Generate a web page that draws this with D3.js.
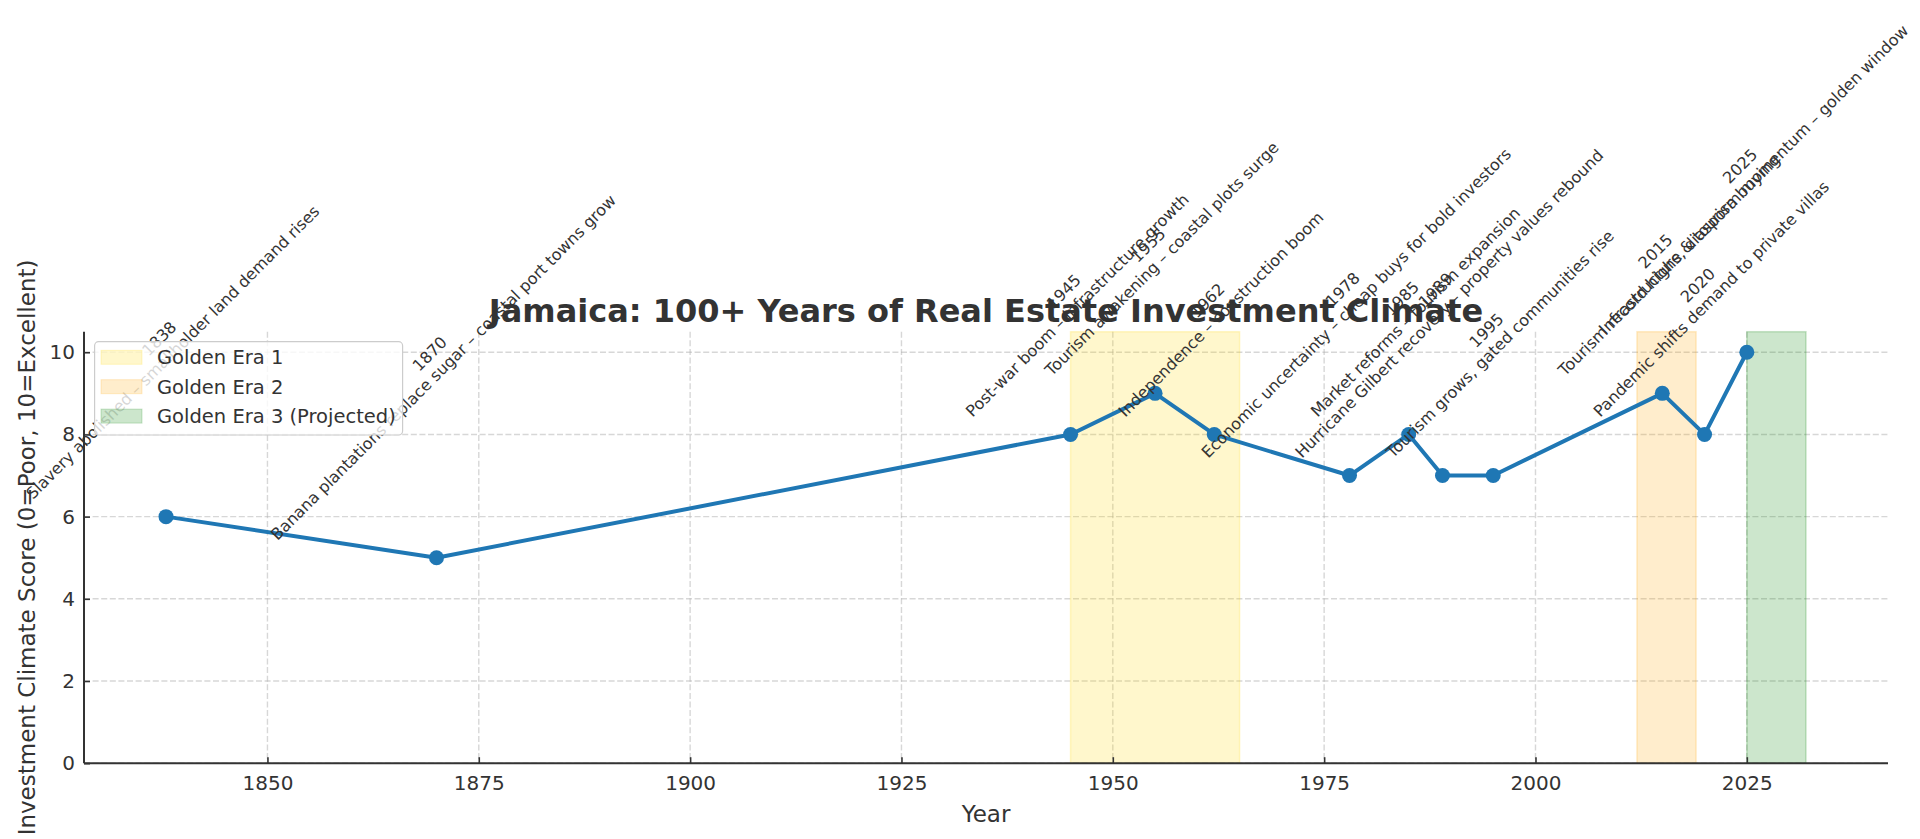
<!DOCTYPE html>
<html lang="en">
  <head>
    <meta charset="utf-8">
    <script src="https://cdn.jsdelivr.net/npm/d3@7"></script>
    <style>
      body { margin: 0; background: #fff; }
      text { font-family: "DejaVu Sans", sans-serif; }
    </style>
  </head>
  <body>
    <script type="text/javascript">

      // Data
      var years = [1838, 1870, 1945, 1955, 1962, 1978, 1985, 1989, 1995, 2015, 2020, 2025];
      var scores = [6, 5, 8, 9, 8, 7, 8, 7, 7, 9, 8, 10];
      var events = [
        "Slavery abolished – smallholder land demand rises",
        "Banana plantations replace sugar – coastal port towns grow",
        "Post-war boom – infrastructure growth",
        "Tourism awakening – coastal plots surge",
        "Independence – construction boom",
        "Economic uncertainty – cheap buys for bold investors",
        "Market reforms – tourism expansion",
        "Hurricane Gilbert recovery – property values rebound",
        "Tourism grows, gated communities rise",
        "Tourism record highs, diaspora buying",
        "Pandemic shifts demand to private villas",
        "Infrastructure & tourism momentum – golden window"
      ];

      var eraNames = ["Golden Era 1", "Golden Era 2", "Golden Era 3 (Projected)"];
      var eraStarts = [1945, 2012, 2025];
      var eraEnds = [1965, 2019, 2032];
      var eraColors = ["gold", "orange", "green"];

      var xTicks = [1850, 1875, 1900, 1925, 1950, 1975, 2000, 2025];
      var yTicks = [0, 2, 4, 6, 8, 10];

      // Layout
      var svgWidth = 1920;
      var svgHeight = 839;
      var plotL = 84, plotR = 1888, plotT = 331.7, plotB = 763.2;
      var ink = "#333";

      var svg = d3.select("body")
        .append("svg")
        .attr("width", svgWidth)
        .attr("height", svgHeight);

      // x limits with 5% padding like matplotlib
      var xMin = d3.min(years), xMax = d3.max(eraEnds);
      var pad = (xMax - xMin) * 0.05;
      var x = d3.scaleLinear().domain([xMin - pad, xMax + pad]).range([plotL, plotR]);
      var y = d3.scaleLinear().domain([0, 10.5]).range([plotB, plotT]);

      // grid
      var grid = svg.append("g")
        .attr("stroke", "#b0b0b0")
        .attr("stroke-opacity", 0.5)
        .attr("stroke-width", 1.4)
        .attr("stroke-dasharray", "6,2.6");
      grid.selectAll("line.gx").data(xTicks).join("line")
        .attr("class", "gx")
        .attr("x1", d => x(d)).attr("x2", d => x(d))
        .attr("y1", plotT).attr("y2", plotB);
      grid.selectAll("line.gy").data(yTicks).join("line")
        .attr("class", "gy")
        .attr("x1", plotL).attr("x2", plotR)
        .attr("y1", d => y(d)).attr("y2", d => y(d));

      // golden era spans
      svg.append("g").selectAll("rect").data(eraNames).join("rect")
        .attr("x", (d, i) => x(eraStarts[i]))
        .attr("width", (d, i) => x(eraEnds[i]) - x(eraStarts[i]))
        .attr("y", plotT)
        .attr("height", plotB - plotT)
        .attr("fill", (d, i) => eraColors[i])
        .attr("fill-opacity", 0.2)
        .attr("stroke", (d, i) => eraColors[i])
        .attr("stroke-opacity", 0.2)
        .attr("stroke-width", 1.5);

      // line + markers
      var pts = years.map((yr, i) => ({year: yr, score: scores[i], text: events[i]}));
      var line = d3.line().x(d => x(d.year)).y(d => y(d.score));
      svg.append("path")
        .datum(pts)
        .attr("d", line)
        .attr("fill", "none")
        .attr("stroke", "#1f77b4")
        .attr("stroke-width", 4)
        .attr("stroke-linejoin", "round");
      svg.append("g").selectAll("circle").data(pts).join("circle")
        .attr("cx", d => x(d.year))
        .attr("cy", d => y(d.score))
        .attr("r", 7.5)
        .attr("fill", "#1f77b4");

      // axes
      var xAxis = svg.append("g")
        .attr("transform", "translate(0," + plotB + ")")
        .call(d3.axisBottom(x).tickValues(xTicks).tickFormat(d3.format("d"))
              .tickSizeInner(-6).tickSizeOuter(0).tickPadding(14));
      var yAxis = svg.append("g")
        .attr("transform", "translate(" + plotL + ",0)")
        .call(d3.axisLeft(y).tickValues(yTicks).tickFormat(d3.format("d"))
              .tickSizeInner(-6).tickSizeOuter(0).tickPadding(9));
      [xAxis, yAxis].forEach(function(a) {
        a.select(".domain").attr("stroke", ink).attr("stroke-width", 2);
        a.selectAll(".tick line").attr("stroke", ink).attr("stroke-width", 1.6);
        a.selectAll(".tick text")
          .attr("fill", ink)
          .attr("font-size", 20)
          .attr("font-family", "DejaVu Sans");
      });
      // spines span the whole plot area
      xAxis.select(".domain").attr("d", "M" + plotL + ",0H" + plotR);
      yAxis.select(".domain").attr("d", "M0," + plotT + "V" + plotB);
      xAxis.selectAll(".tick text").attr("dy", null).attr("y", 27);
      yAxis.selectAll(".tick text").attr("x", -9);

      // title and axis labels
      svg.append("text")
        .attr("x", (plotL + plotR) / 2)
        .attr("y", 322)
        .attr("text-anchor", "middle")
        .attr("font-size", 32)
        .attr("font-weight", "bold")
        .attr("fill", ink)
        .text("Jamaica: 100+ Years of Real Estate Investment Climate");

      svg.append("text")
        .attr("x", (plotL + plotR) / 2)
        .attr("y", 822)
        .attr("text-anchor", "middle")
        .attr("font-size", 23)
        .attr("fill", ink)
        .text("Year");

      svg.append("text")
        .attr("transform", "translate(35," + ((plotT + plotB) / 2) + ") rotate(-90)")
        .attr("text-anchor", "middle")
        .attr("font-size", 23)
        .attr("fill", ink)
        .text("Investment Climate Score (0=Poor, 10=Excellent)");

      // annotations: rotated 45deg, bbox centred over point, bottom 14px above
      var fs = 16, lineH = fs * 1.2;
      var ann = svg.append("g").selectAll("g").data(pts).join("g");
      ann.each(function(d) {
        var g = d3.select(this);
        var t = g.append("text")
          .attr("text-anchor", "middle")
          .attr("font-size", fs)
          .attr("fill", ink);
        var t1 = t.append("tspan").attr("x", 0).attr("y", -lineH / 2 + 0.346 * fs).text(d.year);
        var t2 = t.append("tspan").attr("x", 0).attr("y", lineH / 2 + 0.346 * fs).text(d.text);
        var W = Math.max(t1.node().getComputedTextLength(), t2.node().getComputedTextLength());
        var H = lineH + 1.164 * fs;
        var side = (W + H) / Math.SQRT2;
        var cx = x(d.year), cy = y(d.score) - 14 - side / 2;
        g.attr("transform", "translate(" + cx + "," + cy + ") rotate(-45)");
      });

      // legend
      var lg = svg.append("g");
      lg.append("rect")
        .attr("x", 94.6).attr("y", 341.7)
        .attr("width", 308).attr("height", 93.3)
        .attr("rx", 4)
        .attr("fill", "#fff").attr("fill-opacity", 0.8)
        .attr("stroke", "#ccc").attr("stroke-width", 1.2);
      var rowY = d3.scaleLinear().domain([0, 1]).range([357.3, 386.7]);
      var rows = lg.selectAll("g.row").data(eraNames).join("g")
        .attr("class", "row")
        .attr("transform", (d, i) => "translate(0," + rowY(i) + ")");
      rows.append("rect")
        .attr("x", 101).attr("y", -7)
        .attr("width", 41).attr("height", 14)
        .attr("fill", (d, i) => eraColors[i])
        .attr("fill-opacity", 0.2)
        .attr("stroke", (d, i) => eraColors[i])
        .attr("stroke-opacity", 0.2);
      rows.append("text")
        .attr("x", 157)
        .attr("y", 6.8)
        .attr("font-size", 19.5)
        .attr("fill", ink)
        .text(d => d);
    </script>
  </body>
</html>
